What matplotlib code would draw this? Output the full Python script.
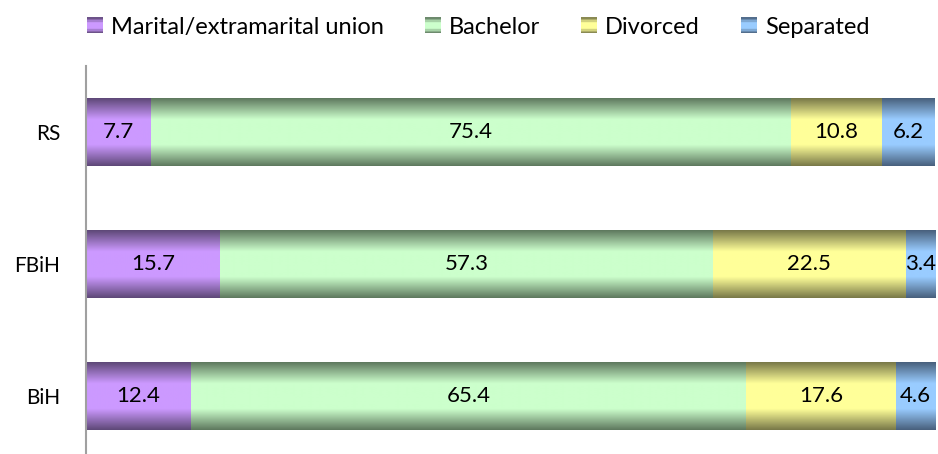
import numpy as np
import matplotlib
matplotlib.use('Agg')
import matplotlib.pyplot as plt
from matplotlib.colors import LinearSegmentedColormap
from matplotlib.patches import Rectangle
from matplotlib.legend_handler import HandlerBase

plt.rcParams['font.family'] = ['Lato', 'DejaVu Sans']

# data
regions = ['BiH', 'FBiH', 'RS']
series = ['Marital/extramarital union', 'Bachelor', 'Divorced', 'Separated']
union = [12.4, 15.7, 7.7]
bachelor = [65.4, 57.3, 75.4]
divorced = [17.6, 22.5, 10.8]
separated = [4.6, 3.4, 6.2]
values = [union, bachelor, divorced, separated]

# light centre / dark edge for each series
light = ['#CC99FF', '#CCFFCC', '#FFFF99', '#99CCFF']
dark = ['#5E4877', '#5E785E', '#787848', '#48607C']
cmaps = [LinearSegmentedColormap.from_list('g%d' % i, [dark[i], light[i]]) for i in range(4)]

# vertical profile: dark edges, light middle
t = np.linspace(0, 1, 200)
prof = np.clip((1 - np.abs(t - 0.5) / 0.5) * 1.6, 0, 1)


class GradientHandler(HandlerBase):
    def __init__(self, cmap):
        super().__init__()
        self.cmap = cmap

    def create_artists(self, legend, orig_handle, xdescent, ydescent, width, height, fontsize, trans):
        n = 12
        arts = []
        for k in range(n):
            tk = (k + 0.5) / n
            v = float(np.clip((1 - abs(tk - 0.5) / 0.5) * 1.6, 0.0, 1.0))
            arts.append(Rectangle((-xdescent, -ydescent + height * k / n), width, height / n + 0.3,
                                  facecolor=self.cmap(v), edgecolor='none', transform=trans))
        return arts


fig = plt.figure(figsize=(9.38, 4.54), dpi=100)
ax = fig.add_axes([85.5 / 938, 0, (935 - 85.5) / 938, (454 - 66) / 454])

y = np.arange(len(regions))
h = 0.515
totals = np.sum(values, axis=0)
left = np.zeros(len(regions))

for i, vals in enumerate(values):
    share = np.array(vals) / totals
    bars = ax.barh(y, share, left=left, height=h, color=light[i], edgecolor='none')
    for b, v in zip(bars, vals):
        x0, y0 = b.get_x(), b.get_y()
        ax.imshow(prof[:, None], cmap=cmaps[i], vmin=0, vmax=1, aspect='auto',
                  extent=[x0, x0 + b.get_width(), y0, y0 + b.get_height()],
                  interpolation='bilinear', zorder=2)
        ax.text(x0 + b.get_width() / 2, y0 + b.get_height() / 2, f'{v:.1f}',
                ha='center', va='center', fontsize=16, color='black', zorder=3)
    left = left + share

ax.set_xlim(0, 1)
ax.set_ylim(-0.44, 2.5)
ax.set_yticks(y)
ax.set_yticklabels(regions, fontsize=15)
ax.tick_params(axis='y', length=0, pad=18)
ax.set_xticks([])
for s in ['top', 'right', 'bottom']:
    ax.spines[s].set_visible(False)
ax.spines['left'].set_color('#A0A0A0')
ax.spines['left'].set_linewidth(1.5)

handles = [Rectangle((0, 0), 1, 1) for _ in series]
hmap = {hd: GradientHandler(cm) for hd, cm in zip(handles, cmaps)}
fig.legend(handles, series, handler_map=hmap, loc='center', bbox_to_anchor=(0.51, 0.94), ncol=4,
           frameon=False, fontsize=17, handlelength=0.65, handleheight=0.65,
           handletextpad=0.35, columnspacing=1.75)

fig.savefig('out.png', dpi=100)
